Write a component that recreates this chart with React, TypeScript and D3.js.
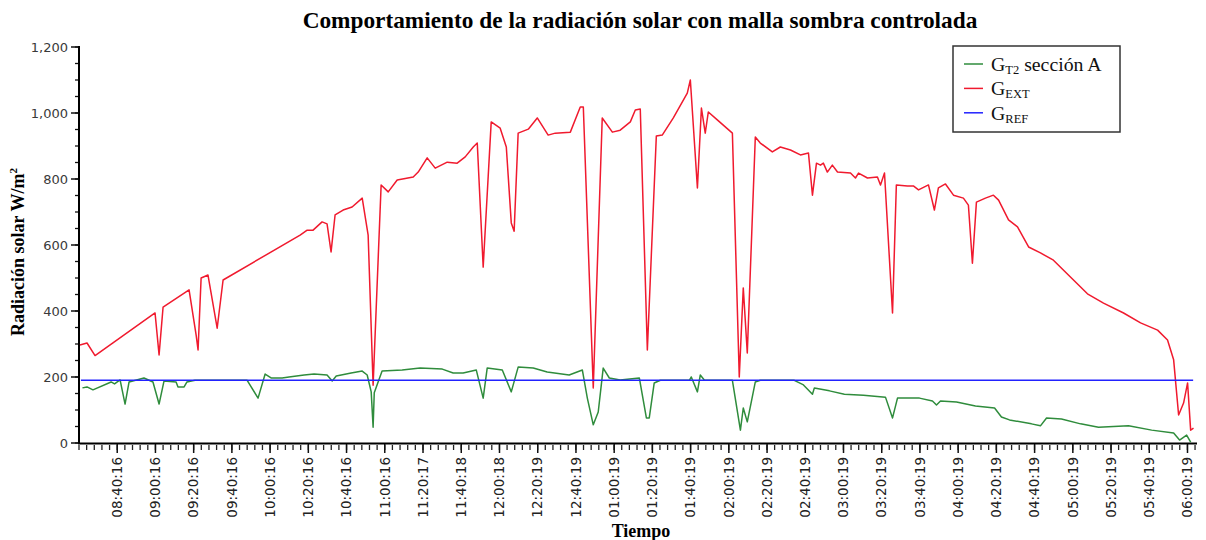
import React from 'react';
import * as d3 from 'd3';

const title = 'Comportamiento de la radiación solar con malla sombra controlada';

// [minutes after 08:20:16, W/m²]
const gExt: [number, number][] = [
  [0.5, 297], [4.2, 303], [8.4, 265], [39.8, 394], [41.9, 267], [44.0, 412], [57.6, 464],
  [61.3, 327], [62.3, 282], [63.9, 500], [67.5, 509], [72.3, 348], [75.4, 494], [115.7, 630],
  [119.4, 645], [122.5, 645], [127.2, 670], [129.8, 664], [131.9, 579], [134.0, 691], [138.2, 706],
  [142.9, 715], [148.2, 742], [151.3, 630], [153.9, 175], [158.1, 782], [161.8, 761], [166.5, 797],
  [174.9, 806], [177.5, 821], [182.2, 864], [186.4, 833], [192.7, 851], [197.9, 848], [202.1, 867],
  [206.3, 897], [208.4, 909], [211.5, 533], [215.7, 973], [220.4, 954], [223.6, 897], [226.2, 667],
  [227.7, 642], [229.8, 939], [235.1, 951], [239.8, 985], [245.5, 933], [249.2, 939], [257.1, 942],
  [262.3, 1018], [263.9, 1018], [269.1, 167], [273.8, 985], [279.1, 942], [283.2, 948], [288.5, 973],
  [291.1, 1009], [293.7, 1012], [297.4, 282], [302.1, 930], [305.2, 933], [311.0, 985], [318.3, 1060],
  [319.9, 1100], [323.6, 773], [325.7, 1015], [327.7, 939], [329.3, 1003], [334.0, 979], [341.9, 939],
  [345.5, 200], [347.6, 470], [349.7, 273], [353.9, 927], [356.5, 909], [362.8, 882], [367.0, 897],
  [372.3, 888], [377.5, 873], [381.7, 879], [383.8, 751], [385.9, 848], [388.0, 842], [389.5, 848],
  [391.6, 821], [394.2, 842], [396.9, 821], [403.7, 818], [406.3, 803], [407.9, 818], [412.6, 803],
  [417.8, 806], [419.4, 782], [421.5, 818], [425.7, 394], [427.7, 782], [433.5, 779], [436.6, 779],
  [439.3, 767], [444.5, 782], [447.6, 706], [449.7, 773], [453.4, 785], [457.6, 751], [462.8, 742],
  [465.4, 721], [467.5, 545], [469.6, 730], [474.3, 742], [478.5, 751], [481.2, 736], [486.4, 676],
  [491.1, 655], [496.9, 594], [503.1, 576], [509.9, 554], [518.8, 503], [527.7, 452], [536.1, 424],
  [546.6, 394], [555.5, 364], [564.4, 342], [569.6, 312], [572.8, 252], [575.4, 85], [578.0, 121],
  [580.1, 182], [581.7, 39], [583.2, 45],
];

const gT2: [number, number][] = [
  [1.8, 167], [4.2, 170], [7.3, 161], [16.8, 185], [18.6, 179], [21.5, 191], [24.1, 118],
  [26.2, 185], [34.0, 197], [38.7, 185], [41.9, 118], [44.5, 188], [50.8, 185], [51.8, 170],
  [55.0, 170], [56.5, 185], [60.7, 190], [88.0, 190], [93.7, 136], [97.4, 209], [100.5, 197],
  [106.3, 197], [109.9, 200], [117.8, 206], [123.0, 209], [129.8, 206], [132.5, 188], [134.6, 203],
  [142.4, 212], [148.2, 218], [150.8, 206], [152.9, 155], [153.9, 48], [154.5, 152], [158.6, 218],
  [169.1, 221], [178.5, 227], [190.1, 224], [195.8, 212], [201.0, 212], [207.9, 221], [211.5, 136],
  [213.6, 227], [221.5, 221], [226.2, 155], [229.8, 230], [237.7, 227], [245.0, 215], [256.5, 206],
  [263.4, 221], [266.0, 136], [269.1, 55], [271.7, 94], [274.3, 227], [277.5, 197], [283.2, 191],
  [293.2, 197], [296.9, 76], [298.4, 76], [301.0, 182], [304.2, 190], [319.4, 190], [320.4, 200],
  [323.6, 155], [325.1, 206], [327.2, 191], [341.9, 190], [346.1, 39], [347.6, 106], [349.7, 64],
  [353.9, 185], [356.5, 190], [374.3, 190], [379.1, 176], [383.8, 148], [384.8, 167], [392.7, 158],
  [400.5, 148], [410.5, 145], [422.0, 139], [425.7, 76], [428.3, 136], [439.8, 136], [446.6, 127],
  [448.7, 115], [450.8, 127], [459.2, 124], [469.1, 112], [479.1, 106], [482.7, 79], [486.9, 70],
  [498.4, 58], [503.1, 52], [506.3, 76], [514.1, 73], [524.1, 58], [533.5, 48], [549.2, 52],
  [561.3, 39], [572.8, 30], [575.9, 9], [579.6, 24], [581.7, 3],
];

const gRef: [number, number][] = [[1, 190], [583, 190]];

const timeLabels = [
  '08:40:16', '09:00:16', '09:20:16', '09:40:16', '10:00:16', '10:20:16', '10:40:16', '11:00:16',
  '11:20:17', '11:40:18', '12:00:18', '12:20:19', '12:40:19', '01:00:19', '01:20:19', '01:40:19',
  '02:00:19', '02:20:19', '02:40:19', '03:00:19', '03:20:19', '03:40:19', '04:00:19', '04:20:19',
  '04:40:19', '05:00:19', '05:20:19', '05:40:19', '06:00:19',
];

const yTicks = [0, 200, 400, 600, 800, 1000, 1200];

const start = new Date(2019, 0, 1, 8, 20, 16);
const toDate = (m: number) => new Date(start.getTime() + m * 60000);
const parseLabel = (s: string) => {
  const [h, m, sec] = s.split(':').map(Number);
  return new Date(2019, 0, 1, h < 8 ? h + 12 : h, m, sec);
};

const serif = '"Liberation Serif", "Times New Roman", serif';
const sans = '"DejaVu Sans", Verdana, sans-serif';

export default function App() {
  const left = 79, right = 1196, top = 47, bottom = 443;

  const x = d3.scaleTime().domain([start, toDate(584.5)]).range([left, right]);
  const y = d3.scaleLinear().domain([0, 1200]).range([bottom, top]);

  const line = d3.line<[number, number]>()
    .x(d => x(toDate(d[0])))
    .y(d => y(d[1]));

  const minorX = d3.range(0, 585, 4);
  const minorY = d3.range(0, 1201, 50);

  const legend = [
    { color: '#2f8c3c', sub: 'T2', rest: ' sección A' },
    { color: '#f01a2e', sub: 'EXT', rest: '' },
    { color: '#2222ff', sub: 'REF', rest: '' },
  ];

  return (
    <svg width={1206} height={540} style={{ position: 'absolute', left: 0, top: 0, background: '#fff' }}>
      <text x={640} y={28} textAnchor="middle" fontFamily={serif} fontWeight="bold" fontSize={23.3}>
        {title}
      </text>

      {/* y axis */}
      {minorY.map(v => (
        <line key={'my' + v} x1={left - 4} x2={left} y1={y(v)} y2={y(v)} stroke="#111" strokeWidth={1.3} />
      ))}
      {yTicks.map(v => (
        <g key={'y' + v}>
          <line x1={left - 8} x2={left} y1={y(v)} y2={y(v)} stroke="#111" strokeWidth={1.5} />
          <text x={left - 11} y={y(v)} dy="0.35em" textAnchor="end" fontFamily={sans} fontSize={13} fill="#3a3a3a">
            {d3.format(',')(v)}
          </text>
        </g>
      ))}
      <line x1={left} x2={left} y1={top - 1} y2={bottom + 1} stroke="#000" strokeWidth={2} />

      {/* x axis */}
      {minorX.map(m => (
        <line key={'mx' + m} x1={x(toDate(m))} x2={x(toDate(m))} y1={bottom + 2} y2={bottom + 7} stroke="#222" strokeWidth={1.3} />
      ))}
      {timeLabels.map(s => {
        const px = x(parseLabel(s));
        return (
          <g key={s}>
            <line x1={px} x2={px} y1={bottom} y2={bottom + 10} stroke="#111" strokeWidth={1.5} />
            <text transform={`translate(${px},${bottom + 14}) rotate(-90)`} dy="0.35em" textAnchor="end"
              fontFamily={sans} fontSize={13.5} fill="#222">
              {s}
            </text>
          </g>
        );
      })}
      <line x1={left - 1} x2={right + 1} y1={bottom + 0.5} y2={bottom + 0.5} stroke="#000" strokeWidth={2} />

      {/* series */}
      <path d={line(gT2) ?? ''} fill="none" stroke="#2f8c3c" strokeWidth={1.5} strokeLinejoin="round" />
      <path d={line(gExt) ?? ''} fill="none" stroke="#f01a2e" strokeWidth={1.5} strokeLinejoin="round" />
      <path d={line(gRef) ?? ''} fill="none" stroke="#2222ff" strokeWidth={1.4} />

      {/* axis titles */}
      <text transform="translate(24,252) rotate(-90)" textAnchor="middle" fontFamily={serif} fontWeight="bold" fontSize={18}>
        Radiación solar W/m<tspan dy={-7} fontSize={11}>2</tspan>
      </text>
      <text x={641} y={537} textAnchor="middle" fontFamily={serif} fontWeight="bold" fontSize={18}>
        Tiempo
      </text>

      {/* legend */}
      <rect x={953} y={46} width={167} height={86} fill="#fff" stroke="#333" strokeWidth={1.5} />
      {legend.map((d, i) => (
        <g key={d.sub} transform={`translate(0,${64 + i * 24.4})`}>
          <line x1={964} x2={983} y1={0} y2={0} stroke={d.color} strokeWidth={1.5} />
          <text x={991} y={7} fontFamily={serif} fontSize={19.8} fill="#111">
            G<tspan dy={3} fontSize={12.5}>{d.sub}</tspan>
            {d.rest && <tspan dy={-3}>{d.rest}</tspan>}
          </text>
        </g>
      ))}
    </svg>
  );
}
